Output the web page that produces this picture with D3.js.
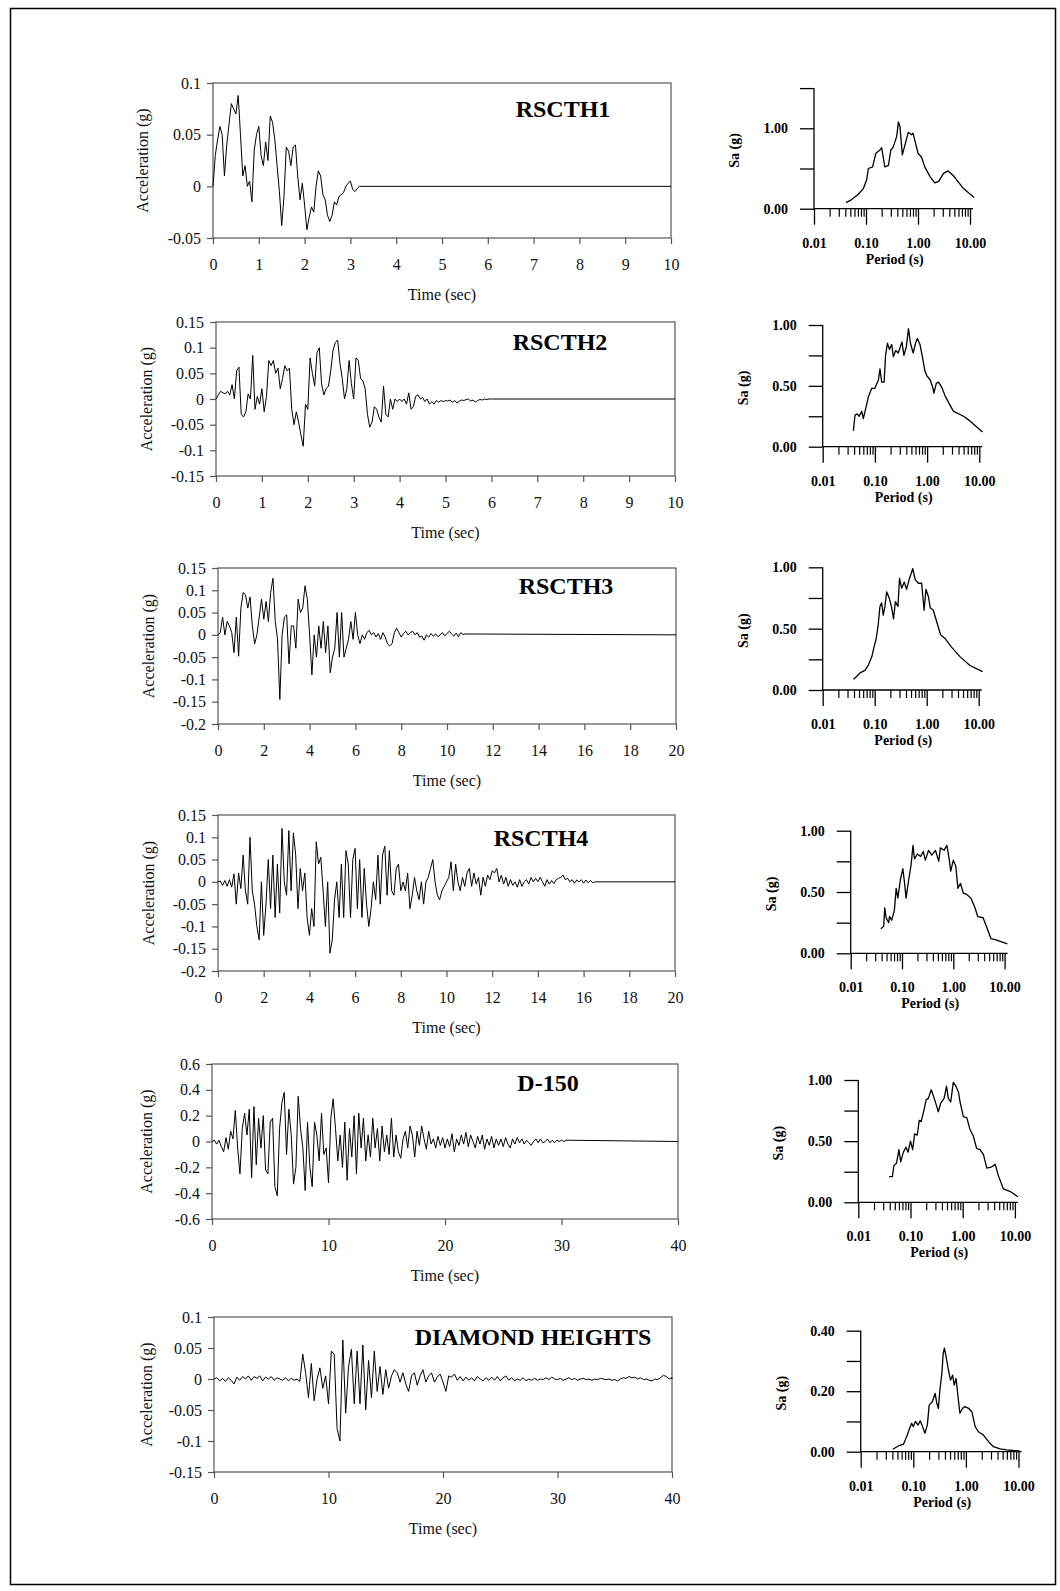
<!DOCTYPE html>
<html>
<head>
<meta charset="utf-8">
<script src="https://cdn.jsdelivr.net/npm/d3@7"></script>
<style>
  body { margin: 0; background: #fff; }
  svg { display: block; font-family: "Liberation Serif", "Times New Roman", serif; }
</style>
</head>
<body>
<svg id="fig" width="1060" height="1591"></svg>
<script>
// ---- acceleration time histories (g), sampled at a constant step ----
const rscth1Dt = 0.05;
const rscth1Acc = [0, 0.030, 0.045, 0.058, 0.050, 0.010, 0.040, 0.060, 0.080, 0.075, 0.070, 0.088, 0.050, 0.010, 0.020, 0.000,
  0.005, -0.015, 0.035, 0.050, 0.058, 0.030, 0.020, 0.043, 0.025, 0.068, 0.062, 0.045, 0.020, -0.005, -0.038, -0.010,
  0.038, 0.034, 0.020, 0.038, 0.040, 0.010, -0.013, 0.003, -0.018, -0.042, -0.030, -0.020, -0.025, 0.000, 0.015, 0.010,
  -0.008, -0.013, -0.028, -0.034, -0.028, -0.015, -0.018, -0.010, -0.008, -0.006, 0.000, 0.003, 0.005, -0.003, -0.005, -0.002, 0.000];

const rscth2Dt = 0.05;
const rscth2Acc = [0, 0.008, 0.015, 0.012, 0.010, 0.015, 0.008, 0.028, 0.000, 0.055, 0.062, -0.030, -0.035, -0.025, 0.010, 0.000,
  0.085, -0.020, 0.005, -0.010, 0.020, -0.025, 0.005, 0.075, 0.065, 0.075, 0.050, 0.060, 0.020, 0.040, 0.065, 0.055,
  0.060, -0.020, -0.050, -0.025, -0.045, -0.070, -0.092, -0.010, -0.020, 0.080, 0.050, 0.025, 0.090, 0.100, 0.030, 0.008,
  0.020, 0.025, 0.055, 0.095, 0.110, 0.115, 0.070, 0.040, 0.000, 0.020, 0.075, 0.030, 0.000, 0.080, 0.075, 0.040,
  0.035, 0.020, -0.030, -0.055, -0.045, -0.015, -0.020, -0.035, -0.045, 0.025, -0.030, -0.035, 0.000, -0.020, 0.000, -0.005,
  0.000, -0.005, 0.000, -0.010, 0.012, -0.020, -0.015, 0.005, 0.008, 0.000, 0.003, -0.005, 0.000, -0.010, -0.005, -0.010,
  -0.003, -0.006, -0.003, -0.005, -0.003, -0.004, -0.002, -0.006, -0.003, -0.008, -0.004, -0.002, -0.003, -0.001, 0.000, -0.004,
  -0.002, -0.006, -0.003, -0.001, -0.002, 0.000, -0.001, 0.000, 0.000];

const rscth3Dt = 0.1;
const rscth3Acc = [0, 0.005, 0.040, 0.000, 0.030, 0.020, 0.005, -0.040, 0.040, -0.048, 0.060, 0.095, 0.090, 0.060, 0.085, 0.020,
  -0.020, 0.000, 0.040, 0.080, 0.035, 0.075, 0.030, 0.095, 0.127, 0.030, -0.010, -0.145, 0.000, 0.040, 0.045, -0.065,
  0.020, 0.020, -0.030, 0.080, 0.050, 0.060, 0.110, 0.080, 0.000, -0.090, 0.000, -0.050, 0.020, -0.030, 0.030, -0.040,
  0.020, -0.085, -0.050, -0.030, 0.050, -0.050, 0.050, -0.050, -0.030, -0.010, 0.030, -0.010, 0.050, 0.000, -0.020, 0.000,
  -0.010, 0.005, 0.010, 0.000, 0.005, -0.005, 0.003, -0.010, 0.005, -0.005, -0.020, -0.025, -0.020, 0.005, 0.015, 0.005,
  -0.005, 0.003, 0.008, 0.000, 0.005, 0.008, 0.000, 0.005, -0.005, -0.003, -0.012, 0.000, -0.005, 0.003, -0.003, 0.002,
  -0.004, 0.000, 0.005, -0.002, 0.003, 0.008, 0.002, -0.003, 0.004, -0.004, 0.005, 0.001, 0.002];

const rscth4Dt = 0.1;
const rscth4Acc = [0, 0.002, -0.008, 0.003, -0.010, 0.005, -0.012, 0.018, -0.050, 0.020, -0.015, 0.060, -0.020, -0.050, 0.100, -0.020,
  -0.050, -0.100, -0.130, 0.000, -0.120, -0.050, 0.050, -0.060, 0.060, -0.080, 0.040, -0.070, 0.120, 0.000, -0.030, 0.115,
  -0.020, 0.110, 0.060, -0.060, 0.030, -0.020, 0.020, -0.080, -0.120, -0.060, -0.100, 0.090, 0.040, 0.055, -0.020, -0.100,
  0.000, -0.160, -0.130, -0.040, 0.000, -0.080, 0.040, -0.080, 0.070, 0.040, -0.080, 0.050, 0.075, -0.060, 0.050, -0.080,
  0.030, -0.050, -0.100, -0.060, 0.000, -0.040, 0.060, -0.050, 0.060, 0.080, -0.030, 0.070, -0.020, -0.030, 0.030, 0.040,
  -0.020, 0.000, -0.020, 0.020, -0.060, -0.030, 0.010, -0.020, -0.040, 0.000, -0.050, 0.000, 0.010, 0.030, 0.050, 0.000,
  -0.030, -0.040, -0.020, -0.010, 0.000, 0.010, 0.045, -0.020, 0.040, 0.000, -0.020, 0.010, -0.010, 0.020, 0.030, -0.010,
  0.020, -0.005, 0.010, -0.030, 0.010, -0.010, 0.015, 0.005, 0.025, 0.020, 0.030, 0.000, 0.015, -0.005, 0.010, -0.010,
  0.005, -0.008, 0.000, -0.012, 0.005, -0.010, 0.000, 0.005, -0.005, 0.010, 0.000, 0.008, 0.000, 0.010, 0.000, -0.010,
  0.005, -0.005, 0.003, -0.004, 0.005, 0.008, 0.010, 0.015, 0.005, 0.008, 0.000, 0.005, -0.003, 0.004, 0.000, 0.005,
  -0.003, 0.004, -0.002, 0.003, -0.002, 0.000];

const d150Dt = 0.2;
const d150Acc = [0.00, 0.01, -0.02, 0.01, -0.04, -0.08, 0.03, -0.06, 0.08, 0.02, 0.24, -0.05, -0.25, 0.10, 0.22, 0.05,
  0.25, -0.28, 0.27, -0.18, 0.18, -0.05, 0.20, -0.22, -0.25, 0.15, 0.18, -0.35, -0.42, 0.10, 0.30, 0.38,
  -0.10, 0.25, 0.05, -0.33, -0.20, 0.35, 0.10, -0.05, -0.38, 0.15, -0.20, -0.35, 0.15, 0.05, -0.15, 0.22,
  -0.10, -0.05, -0.32, 0.18, 0.33, 0.10, -0.15, 0.05, -0.20, 0.15, -0.30, 0.10, -0.12, 0.20, -0.25, 0.22,
  -0.05, 0.18, -0.15, 0.05, -0.12, 0.18, -0.05, 0.10, -0.15, 0.12, -0.08, 0.05, -0.10, 0.18, -0.12, 0.05,
  -0.08, -0.13, 0.02, 0.08, -0.05, 0.12, 0.05, -0.12, 0.08, -0.03, 0.12, 0.02, -0.06, 0.08, -0.02, 0.02,
  -0.05, 0.04, -0.03, 0.03, -0.05, 0.02, -0.04, 0.06, -0.08, 0.02, -0.03, 0.05, -0.02, 0.07, -0.04, 0.05,
  0.00, -0.05, 0.04, -0.02, 0.05, -0.06, 0.02, -0.03, 0.04, -0.05, 0.02, -0.03, 0.02, -0.04, 0.03, -0.02,
  -0.05, 0.02, -0.02, 0.03, -0.01, 0.02, -0.02, 0.01, -0.01, -0.03, 0.00, 0.02, -0.01, 0.02, -0.01, 0.00,
  0.02, -0.01, 0.01, -0.01, 0.01, 0.00, 0.01, 0.00, 0.01];

const diamondDt = 0.25;
const diamondAcc = [0.000, 0.002, -0.003, 0.001, -0.004, 0.002, -0.002, -0.008, 0.003, -0.002, 0.004, 0.000, 0.005, -0.002, 0.004, 0.001,
  0.005, -0.003, 0.003, 0.000, 0.004, -0.002, 0.002, 0.000, -0.002, 0.002, -0.003, 0.001, -0.002, 0.000, -0.004, 0.040,
  0.010, -0.030, 0.025, -0.035, 0.000, 0.018, -0.015, 0.005, -0.040, 0.045, 0.040, -0.080, -0.100, 0.063, -0.055, 0.020,
  0.048, -0.040, 0.045, -0.040, 0.055, -0.050, 0.030, -0.030, 0.045, -0.020, 0.020, -0.025, 0.015, -0.015, 0.005, 0.015,
  0.010, -0.005, 0.010, -0.008, -0.020, 0.005, 0.010, -0.010, 0.005, 0.015, -0.005, 0.005, 0.010, -0.005, 0.003, 0.008,
  -0.005, -0.020, 0.005, 0.003, 0.008, -0.002, 0.004, -0.003, 0.003, -0.002, 0.002, -0.003, 0.004, 0.000, -0.003, 0.002,
  -0.002, 0.003, -0.002, 0.004, -0.003, 0.002, 0.005, -0.002, 0.002, -0.003, 0.000, -0.002, 0.002, -0.003, 0.000, -0.002,
  0.001, -0.002, 0.000, -0.001, 0.002, -0.001, 0.003, 0.000, -0.001, 0.001, -0.002, 0.000, 0.002, -0.001, 0.001, -0.002,
  0.000, 0.001, -0.001, 0.000, -0.002, 0.000, -0.001, 0.001, 0.000, -0.001, 0.000, -0.002, -0.001, -0.003, 0.000, 0.002,
  0.001, 0.004, 0.002, 0.003, 0.000, 0.002, -0.001, 0.000, -0.002, -0.003, 0.000, -0.001, 0.002, 0.006, 0.004, 0.000, 0.002];

// ---- time-history axis ticks ----
const xTicks10 = [0, 1, 2, 3, 4, 5, 6, 7, 8, 9, 10];
const xTicks20 = [0, 2, 4, 6, 8, 10, 12, 14, 16, 18, 20];
const xTicks40 = [0, 10, 20, 30, 40];
const yTicks1 = [-0.05, 0, 0.05, 0.1];
const yTicks2 = [-0.15, -0.1, -0.05, 0, 0.05, 0.1, 0.15];
const yTicks3 = [-0.2, -0.15, -0.1, -0.05, 0, 0.05, 0.1, 0.15];
const yTicks5 = [-0.6, -0.4, -0.2, 0, 0.2, 0.4, 0.6];
const yTicks6 = [-0.15, -0.1, -0.05, 0, 0.05, 0.1];

// ---- response spectra: period (s) and Sa (g) ----
const spec1Period = [0.041, 0.049, 0.057, 0.071, 0.089, 0.103, 0.111, 0.134, 0.155, 0.186, 0.2, 0.23, 0.27, 0.3, 0.33, 0.39, 0.42, 0.45,
  0.5, 0.56, 0.65, 0.75, 0.8, 0.87, 1.0, 1.17, 1.35, 1.7, 2.1, 2.5, 3.1, 3.8, 4.8, 7.5, 12.0];
const spec1Sa = [0.075, 0.1, 0.13, 0.18, 0.25, 0.36, 0.5, 0.52, 0.69, 0.73, 0.76, 0.52, 0.54, 0.73, 0.76, 0.9, 1.08, 1.02,
  0.67, 0.79, 0.95, 0.92, 0.94, 0.85, 0.69, 0.64, 0.52, 0.4, 0.32, 0.34, 0.44, 0.47, 0.41, 0.25, 0.14];

const spec2Period = [0.0387, 0.0416, 0.046, 0.05, 0.056, 0.06, 0.068, 0.075, 0.087, 0.1, 0.117, 0.125, 0.135, 0.15, 0.16, 0.174, 0.19,
  0.21, 0.226, 0.25, 0.28, 0.33, 0.36, 0.4, 0.44, 0.48, 0.54, 0.6, 0.65, 0.73, 0.82, 0.91, 1.0, 1.14, 1.28, 1.35, 1.5, 1.66,
  1.9, 2.2, 2.6, 3.2, 5.0, 6.7, 11.5];
const spec2Sa = [0.13, 0.26, 0.27, 0.25, 0.29, 0.23, 0.33, 0.41, 0.48, 0.48, 0.55, 0.64, 0.53, 0.53, 0.75, 0.85, 0.8,
  0.84, 0.74, 0.79, 0.77, 0.86, 0.75, 0.82, 0.97, 0.85, 0.77, 0.85, 0.89, 0.84, 0.73, 0.62, 0.58, 0.55, 0.49, 0.44, 0.52, 0.53,
  0.49, 0.42, 0.36, 0.29, 0.25, 0.21, 0.12];

const spec3Period = [0.039, 0.045, 0.052, 0.065, 0.075, 0.088, 0.097, 0.107, 0.116, 0.126, 0.136, 0.146, 0.157, 0.17, 0.19, 0.21, 0.23,
  0.25, 0.28, 0.3, 0.33, 0.37, 0.41, 0.46, 0.54, 0.6, 0.69, 0.8, 0.89, 0.97, 1.08, 1.17, 1.34, 1.6, 1.85, 2.25, 3.0, 4.4, 6.8, 11.9];
const spec3Sa = [0.087, 0.11, 0.14, 0.16, 0.2, 0.27, 0.35, 0.42, 0.52, 0.68, 0.71, 0.61, 0.68, 0.8, 0.75, 0.68, 0.58,
  0.72, 0.68, 0.91, 0.83, 0.88, 0.82, 0.9, 0.99, 0.9, 0.87, 0.87, 0.65, 0.82, 0.76, 0.67, 0.65, 0.54, 0.45, 0.42, 0.35, 0.27, 0.2, 0.15];

const spec4Period = [0.0387, 0.044, 0.046, 0.049, 0.055, 0.057, 0.063, 0.071, 0.077, 0.083, 0.093, 0.104, 0.113, 0.12, 0.135, 0.15,
  0.164, 0.175, 0.2, 0.23, 0.26, 0.285, 0.33, 0.38, 0.45, 0.52, 0.56, 0.66, 0.75, 0.83, 0.89, 1.0, 1.12, 1.23, 1.38, 1.57,
  1.83, 2.2, 2.6, 3.0, 3.8, 4.6, 5.4, 6.8, 11.3];
const spec4Sa = [0.2, 0.22, 0.37, 0.29, 0.25, 0.3, 0.27, 0.35, 0.53, 0.45, 0.6, 0.69, 0.56, 0.45, 0.6, 0.72,
  0.88, 0.77, 0.81, 0.79, 0.83, 0.76, 0.84, 0.8, 0.84, 0.75, 0.86, 0.84, 0.88, 0.77, 0.67, 0.76, 0.71, 0.53, 0.57, 0.49,
  0.48, 0.45, 0.38, 0.3, 0.29, 0.2, 0.12, 0.11, 0.076];

const spec5Period = [0.039, 0.045, 0.048, 0.054, 0.06, 0.065, 0.073, 0.082, 0.09, 0.1, 0.11, 0.12, 0.135, 0.147, 0.16, 0.18, 0.2,
  0.22, 0.25, 0.28, 0.32, 0.34, 0.38, 0.44, 0.49, 0.53, 0.59, 0.66, 0.74, 0.83, 0.89, 1.03, 1.2, 1.37, 1.6, 1.85, 2.15,
  2.5, 2.9, 3.6, 4.2, 4.8, 6.0, 8.0, 11.4];
const spec5Sa = [0.21, 0.21, 0.3, 0.32, 0.43, 0.33, 0.41, 0.45, 0.41, 0.5, 0.43, 0.56, 0.55, 0.67, 0.66, 0.75, 0.84,
  0.85, 0.92, 0.86, 0.78, 0.74, 0.81, 0.85, 0.95, 0.85, 0.82, 0.98, 0.95, 0.9, 0.82, 0.7, 0.69, 0.6, 0.54, 0.44, 0.43,
  0.39, 0.28, 0.29, 0.31, 0.22, 0.11, 0.09, 0.046];

const spec6Period = [0.0406, 0.052, 0.065, 0.075, 0.085, 0.093, 0.1, 0.11, 0.123, 0.135, 0.15, 0.166, 0.185, 0.2, 0.23, 0.26, 0.28,
  0.3, 0.32, 0.35, 0.37, 0.39, 0.42, 0.46, 0.51, 0.56, 0.6, 0.65, 0.72, 0.77, 0.86, 0.96, 1.13, 1.3, 1.5, 1.73, 2.15, 2.7,
  3.3, 4.5, 6.0, 8.0, 10.5];
const spec6Sa = [0.008, 0.019, 0.025, 0.05, 0.077, 0.094, 0.083, 0.1, 0.088, 0.102, 0.083, 0.061, 0.088, 0.154, 0.165, 0.193, 0.16,
  0.143, 0.204, 0.26, 0.325, 0.342, 0.314, 0.275, 0.237, 0.253, 0.22, 0.242, 0.171, 0.127, 0.143, 0.149, 0.143, 0.132, 0.083, 0.066, 0.055, 0.033,
  0.017, 0.009, 0.006, 0.004, 0.003];

const svg = d3.select("#fig");

// page frame
svg.append("rect")
  .attr("x", 10.5).attr("y", 8.5)
  .attr("width", 1045).attr("height", 1576)
  .attr("fill", "none").attr("stroke", "#000").attr("stroke-width", 1.5);

function fmtAcc(v) {
  return String(+v.toFixed(2));
}

// TIME HISTORY PANEL
function drawTH(o) {
  const x = d3.scaleLinear().domain([0, o.xMax]).range([o.left, o.right]);
  const y = d3.scaleLinear().domain([o.yMin, o.yMax]).range([o.bottom, o.top]);
  const g = svg.append("g");

  g.append("rect")
    .attr("x", o.left).attr("y", o.top)
    .attr("width", o.right - o.left).attr("height", o.bottom - o.top)
    .attr("fill", "none").attr("stroke", "#555").attr("stroke-width", 1.2);

  g.append("g")
    .attr("transform", "translate(0," + o.bottom + ")")
    .call(d3.axisBottom(x).tickValues(o.xTicks).tickSize(6).tickFormat(d3.format("d")))
    .call((a) => a.select(".domain").remove())
    .call((a) => a.selectAll("line").attr("stroke", "#555").attr("stroke-width", 1.2))
    .call((a) => a.selectAll("text").attr("y", 32).attr("dy", null)
      .style("font-size", "16px").style("font-family", "Liberation Serif").attr("fill", "#111"));

  g.append("g")
    .attr("transform", "translate(" + o.left + ",0)")
    .call(d3.axisLeft(y).tickValues(o.yTicks).tickSize(6).tickPadding(6).tickFormat(fmtAcc))
    .call((a) => a.select(".domain").remove())
    .call((a) => a.selectAll("line").attr("stroke", "#555").attr("stroke-width", 1.2))
    .call((a) => a.selectAll("text").attr("dy", "0.32em")
      .style("font-size", "16px").style("font-family", "Liberation Serif").attr("fill", "#111"));

  // record + zero tail to end of axis
  const pts = o.acc.map((a, i) => [i * o.dt, a]);
  pts.push([o.xMax, 0]);
  const line = d3.line().x((d) => x(d[0])).y((d) => y(d[1]));
  g.append("path")
    .attr("d", line(pts))
    .attr("fill", "none").attr("stroke", "#000").attr("stroke-width", 1)
    .attr("stroke-linejoin", "round");

  g.append("text")
    .attr("x", o.titleX).attr("y", o.titleY)
    .attr("text-anchor", "middle")
    .style("font-size", "24px").style("font-weight", "bold")
    .text(o.title);

  g.append("text")
    .attr("x", (o.left + o.right) / 2).attr("y", o.bottom + 62)
    .attr("text-anchor", "middle").style("font-size", "16px").attr("fill", "#111")
    .text("Time (sec)");

  g.append("text")
    .attr("transform", "translate(" + o.labX + "," + (o.top + o.bottom) / 2 + ") rotate(-90)")
    .attr("dy", "0.35em")
    .attr("text-anchor", "middle").style("font-size", "16px").attr("fill", "#111")
    .text("Acceleration (g)");
}

// RESPONSE SPECTRUM PANEL
const minorT = [];
[0.01, 0.1, 1].forEach((dec) => {
  for (let k = 2; k <= 9; k++) minorT.push(+(k * dec).toPrecision(2));
});

function drawSpec(o) {
  const x = d3.scaleLog().domain([0.01, 10]).range([o.ax, o.ax + 3 * o.dec]);
  const yTop = o.y0 - o.pxUnit * o.yMax;
  const y = d3.scaleLinear().domain([0, o.yMax]).range([o.y0, yTop]);
  const g = svg.append("g").style("font-family", "Liberation Serif");

  // axis lines
  g.append("line")
    .attr("x1", o.ax).attr("x2", o.ax).attr("y1", yTop).attr("y2", o.y0)
    .attr("stroke", "#000").attr("stroke-width", 1.3);
  g.append("line")
    .attr("x1", o.ax).attr("x2", x(10) + 3).attr("y1", o.y0).attr("y2", o.y0)
    .attr("stroke", "#000").attr("stroke-width", 1.3);

  // minor ticks below the period axis
  g.append("g")
    .attr("transform", "translate(0," + o.y0 + ")")
    .call(d3.axisBottom(x).tickValues(minorT).tickSize(8).tickFormat(""))
    .call((a) => a.select(".domain").remove())
    .call((a) => a.selectAll("line").attr("stroke", "#000").attr("stroke-width", 1.2));

  // decade ticks and labels
  g.append("g")
    .attr("transform", "translate(0," + o.y0 + ")")
    .call(d3.axisBottom(x).tickValues([0.01, 0.1, 1, 10]).tickSize(16).tickFormat(d3.format(".2f")))
    .call((a) => a.select(".domain").remove())
    .call((a) => a.selectAll("line").attr("stroke", "#000").attr("stroke-width", 1.3))
    .call((a) => a.selectAll("text").attr("y", 39).attr("dy", null)
      .style("font-size", "14px").style("font-weight", "bold").style("font-family", "Liberation Serif").attr("fill", "#000"));

  // Sa axis
  g.append("g")
    .attr("transform", "translate(" + o.ax + ",0)")
    .call(d3.axisLeft(y).tickValues(o.yTicks).tickSize(14).tickPadding(12)
      .tickFormat((d) => (o.yLabels.includes(d) ? d.toFixed(2) : "")))
    .call((a) => a.select(".domain").remove())
    .call((a) => a.selectAll("line").attr("stroke", "#000").attr("stroke-width", 1.3))
    .call((a) => a.selectAll("text").attr("dy", "0.32em")
      .style("font-size", "14px").style("font-weight", "bold").style("font-family", "Liberation Serif").attr("fill", "#000"));

  const pts = o.T.map((t, i) => [t, o.Sa[i]]);
  g.append("path")
    .attr("d", d3.line().x((d) => x(d[0])).y((d) => y(d[1]))(pts))
    .attr("fill", "none").attr("stroke", "#000").attr("stroke-width", 1.3)
    .attr("stroke-linejoin", "round");

  g.append("text")
    .attr("x", o.ax + 1.55 * o.dec).attr("y", o.y0 + 55)
    .attr("text-anchor", "middle")
    .style("font-size", "14px").style("font-weight", "bold")
    .text("Period (s)");

  g.append("text")
    .attr("transform", "translate(" + (o.ax - 80) + "," + ((o.y0 + yTop) / 2 + 2) + ") rotate(-90)")
    .attr("dy", "0.35em")
    .attr("text-anchor", "middle")
    .style("font-size", "14px").style("font-weight", "bold")
    .text("Sa (g)");
}

// ---- rows ----
drawTH({ left: 213, right: 671, top: 83, bottom: 238, xMax: 10, xTicks: xTicks10, yMin: -0.05, yMax: 0.1, yTicks: yTicks1,
  acc: rscth1Acc, dt: rscth1Dt, title: "RSCTH1", titleX: 563, titleY: 117, labX: 142 });
drawTH({ left: 216, right: 675, top: 322, bottom: 476, xMax: 10, xTicks: xTicks10, yMin: -0.15, yMax: 0.15, yTicks: yTicks2,
  acc: rscth2Acc, dt: rscth2Dt, title: "RSCTH2", titleX: 560, titleY: 350, labX: 146 });
drawTH({ left: 218, right: 676, top: 568, bottom: 724, xMax: 20, xTicks: xTicks20, yMin: -0.2, yMax: 0.15, yTicks: yTicks3,
  acc: rscth3Acc, dt: rscth3Dt, title: "RSCTH3", titleX: 566, titleY: 594, labX: 148 });
drawTH({ left: 218, right: 675, top: 815, bottom: 971, xMax: 20, xTicks: xTicks20, yMin: -0.2, yMax: 0.15, yTicks: yTicks3,
  acc: rscth4Acc, dt: rscth4Dt, title: "RSCTH4", titleX: 541, titleY: 846, labX: 148 });
drawTH({ left: 212, right: 678, top: 1064, bottom: 1219, xMax: 40, xTicks: xTicks40, yMin: -0.6, yMax: 0.6, yTicks: yTicks5,
  acc: d150Acc, dt: d150Dt, title: "D-150", titleX: 548, titleY: 1091, labX: 146 });
drawTH({ left: 214, right: 672, top: 1317, bottom: 1472, xMax: 40, xTicks: xTicks40, yMin: -0.15, yMax: 0.1, yTicks: yTicks6,
  acc: diamondAcc, dt: diamondDt, title: "DIAMOND HEIGHTS", titleX: 533, titleY: 1345, labX: 146 });

drawSpec({ ax: 814, y0: 208.7, pxUnit: 80.4, yMax: 1.5, yTicks: [0, 0.5, 1, 1.5], yLabels: [0, 1], dec: 52, T: spec1Period, Sa: spec1Sa });
drawSpec({ ax: 822.7, y0: 446.7, pxUnit: 121.7, yMax: 1, yTicks: [0, 0.25, 0.5, 0.75, 1], yLabels: [0, 0.5, 1], dec: 52.2, T: spec2Period, Sa: spec2Sa });
drawSpec({ ax: 822.7, y0: 690, pxUnit: 122.7, yMax: 1, yTicks: [0, 0.25, 0.5, 0.75, 1], yLabels: [0, 0.5, 1], dec: 52, T: spec3Period, Sa: spec3Sa });
drawSpec({ ax: 850.7, y0: 953.3, pxUnit: 122.6, yMax: 1, yTicks: [0, 0.25, 0.5, 0.75, 1], yLabels: [0, 0.5, 1], dec: 51.3, T: spec4Period, Sa: spec4Sa });
drawSpec({ ax: 858.3, y0: 1202.3, pxUnit: 122.3, yMax: 1, yTicks: [0, 0.25, 0.5, 0.75, 1], yLabels: [0, 0.5, 1], dec: 52.2, T: spec5Period, Sa: spec5Sa });
drawSpec({ ax: 860.7, y0: 1451.7, pxUnit: 302.5, yMax: 0.4, yTicks: [0, 0.1, 0.2, 0.3, 0.4], yLabels: [0, 0.2, 0.4], dec: 52.6, T: spec6Period, Sa: spec6Sa });
</script>
</body>
</html>
